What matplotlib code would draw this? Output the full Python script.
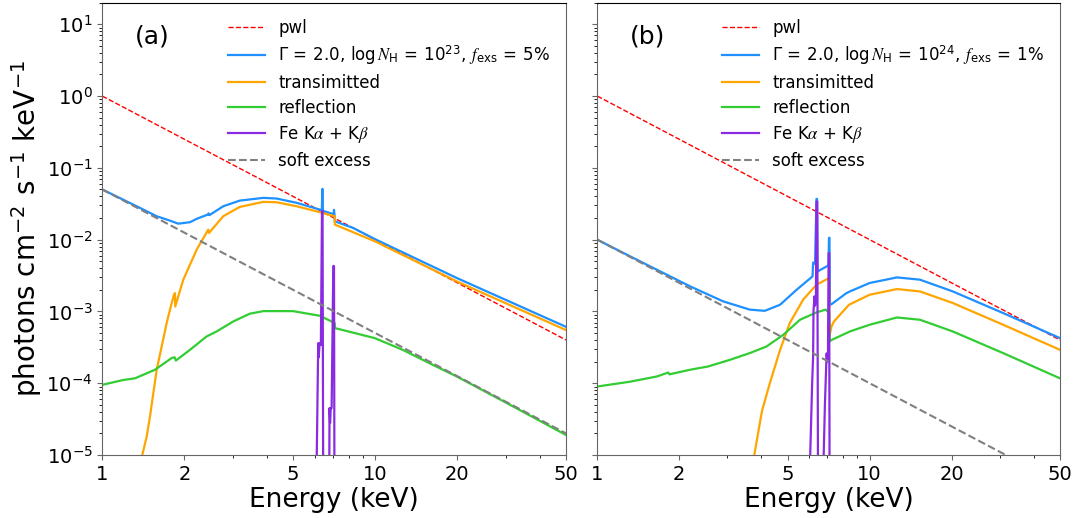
import matplotlib
matplotlib.use("Agg")
import matplotlib.pyplot as plt
from matplotlib.ticker import FixedLocator, FixedFormatter, NullFormatter, LogFormatterMathtext

plt.rcParams["mathtext.fontset"] = "custom"
plt.rcParams["mathtext.rm"] = "DejaVu Sans"
plt.rcParams["mathtext.it"] = "STIXGeneral:italic"
plt.rcParams["mathtext.bf"] = "DejaVu Sans:bold"

# ---- DATA -----------------------------------------------------------------
# power law and soft excess (straight in log-log, end points only)
pwl_e = [1.0, 50.0]
pwl_a = [1.0, 4.0e-4]
pwl_b = [1.0, 4.0e-4]
soft_e = [1.0, 50.0]
soft_a = [0.05, 2.0e-5]
soft_b = [0.01, 4.0e-6]

# panel (a): NH = 1e23, f_exs = 5%
tot_a_e = [1.0, 1.374, 1.582, 1.77, 1.898, 2.095, 2.217, 2.44, 2.45, 2.47, 2.774, 3.19,
           3.89, 4.35, 5.15, 6.27, 6.37, 6.40, 6.43, 6.9, 7.03, 7.06, 7.09, 7.11, 8.29,
           9.96, 19.9, 50.0]
tot_a_v = [0.050, 0.0277, 0.0212, 0.0184, 0.0167, 0.0175, 0.0195, 0.0224, 0.0232, 0.0220,
           0.0292, 0.0350, 0.0382, 0.0374, 0.0326, 0.0262, 0.0255, 0.051, 0.0252, 0.0232,
           0.0226, 0.026, 0.0222, 0.0180, 0.01458, 0.0102, 0.00292, 6.1e-4]

tr_a_e = [1.30, 1.401, 1.454, 1.495, 1.582, 1.65, 1.721, 1.77, 1.831, 1.846, 1.85, 1.898,
          1.98, 2.217, 2.444, 2.46, 2.774, 3.19, 3.89, 4.35, 5.15, 6.27, 7.10, 7.11,
          9.96, 19.9, 50.0]
tr_a_v = [1.0e-6, 1.0e-5, 1.8e-5, 3.43e-5, 1.54e-4, 3.25e-4, 6.9e-4, 1.06e-3, 1.71e-3,
          1.8e-3, 1.17e-3, 1.62e-3, 2.77e-3, 7.26e-3, 0.0138, 0.0124, 0.0212, 0.0286,
          0.0336, 0.0332, 0.0292, 0.0241, 0.0212, 0.0162, 0.0095, 2.62e-3, 5.5e-4]

ref_a_e = [1.0, 1.194, 1.317, 1.559, 1.794, 1.84, 1.86, 2.095, 2.41, 2.623, 3.02, 3.47,
           3.89, 5.0, 6.27, 7.10, 7.12, 9.96, 12.6, 15.8, 19.9, 29.5, 50.0]
ref_a_v = [9.5e-5, 1.11e-4, 1.17e-4, 1.54e-4, 2.24e-4, 2.3e-4, 2.07e-4, 2.92e-4, 4.48e-4,
           5.26e-4, 7.26e-4, 9.3e-4, 1.01e-3, 1.01e-3, 8.7e-4, 6.9e-4, 5.86e-4, 4.25e-4,
           2.92e-4, 1.9e-4, 1.24e-4, 5.6e-5, 1.9e-5]

fe_a_e = [6.00, 6.12, 6.18, 6.21, 6.25, 6.32, 6.38, 6.41, 6.46, 6.75, 6.80, 6.83, 6.87,
          6.92, 7.02, 7.06, 7.10]
fe_a_v = [1e-7, 2e-5, 3.6e-4, 2.3e-4, 3.6e-4, 3.4e-4, 0.025, 0.025, 1e-7, 1e-7, 4.5e-5,
          2.8e-5, 4.5e-5, 4.5e-5, 4.3e-3, 4.3e-3, 1e-7]

# panel (b): NH = 1e24, f_exs = 1%
tot_b_e = [1.0, 1.246, 1.652, 2.189, 2.9, 3.63, 4.12, 4.69, 5.39, 6.12, 6.17, 6.20, 6.30,
           6.38, 6.41, 6.44, 6.6, 7.0, 7.06, 7.09, 7.12, 7.15, 7.24, 8.22, 8.46, 10.0,
           12.6, 15.3, 20.2, 30.9, 50.0]
tot_b_v = [0.01, 6.53e-3, 3.82e-3, 2.24e-3, 1.38e-3, 1.06e-3, 1.02e-3, 1.24e-3, 2.0e-3,
           3.0e-3, 3.08e-3, 4.8e-3, 4.6e-3, 0.037, 0.037, 3.6e-3, 3.8e-3, 4.3e-3, 4.4e-3,
           0.0106, 0.0106, 1.24e-3, 1.26e-3, 1.8e-3, 1.9e-3, 2.49e-3, 2.98e-3, 2.77e-3,
           1.9e-3, 9.5e-4, 4.25e-4]

tr_b_e = [3.70, 3.77, 4.01, 4.03, 4.30, 4.69, 5.09, 5.7, 6.38, 7.10, 7.12, 7.24, 7.4,
          8.3, 8.4, 10.0, 12.6, 15.3, 20.2, 30.9, 50.0]
tr_b_v = [3e-6, 1.0e-5, 3.82e-5, 4.2e-5, 1.0e-4, 2.92e-4, 6.9e-4, 1.46e-3, 2.36e-3, 2.92e-3,
          4.5e-4, 6.18e-4, 7.26e-4, 1.18e-3, 1.24e-3, 1.71e-3, 2.05e-3, 1.9e-3, 1.31e-3,
          6.53e-4, 2.92e-4]

ref_b_e = [1.0, 1.318, 1.652, 1.822, 1.84, 2.189, 2.55, 3.07, 3.63, 4.18, 4.82, 5.55,
           6.38, 6.9, 7.10, 7.13, 7.24, 8.46, 10.0, 12.6, 15.3, 20.2, 30.9, 50.0]
ref_b_v = [9.0e-5, 1.05e-4, 1.24e-4, 1.41e-4, 1.33e-4, 1.54e-4, 1.71e-4, 2.12e-4, 2.63e-4,
           3.25e-4, 4.73e-4, 7.66e-4, 9.7e-4, 1.06e-3, 9.5e-4, 3.82e-4, 4.0e-4, 5.26e-4,
           6.53e-4, 8.24e-4, 7.66e-4, 5.26e-4, 2.63e-4, 1.17e-4]

fe_b_e = [5.95, 6.05, 6.15, 6.20, 6.22, 6.27, 6.30, 6.35, 6.38, 6.42, 6.48, 6.70, 6.78,
          6.85, 6.95, 6.99, 7.03, 7.07, 7.10, 7.14]
fe_b_v = [1e-7, 1e-5, 1e-4, 2.35e-4, 1.0e-3, 1.62e-3, 1.2e-3, 1.62e-3, 0.034, 0.034, 1e-7,
          1e-7, 1e-5, 5e-5, 2.6e-4, 2.0e-4, 2.6e-4, 6.5e-3, 6.5e-3, 1e-7]

labels_a = r"$\Gamma\;=\;2.0,\;\log N_{\rm H}\;=\;10^{23},\;f_{\rm exs}\;=\;5\%$"
labels_b = r"$\Gamma\;=\;2.0,\;\log N_{\rm H}\;=\;10^{24},\;f_{\rm exs}\;=\;1\%$"
xticks = [1, 2, 5, 10, 20, 50]
xticklabels = ["1", "2", "5", "10", "20", "50"]
xminor = [3, 4, 6, 7, 8, 9, 30, 40]
ydecades = [1e-5, 1e-4, 1e-3, 1e-2, 1e-1, 1e0, 1e1]

C_BLUE, C_ORANGE, C_GREEN, C_PURPLE = "dodgerblue", "orange", "limegreen", "blueviolet"


# ---- PLOT ------------------------------------------------------------------
def draw_panel(ax, tag, pwl, tot_e, tot_v, label, tr_e, tr_v, ref_e, ref_v,
               fe_e, fe_v, soft):
    ax.plot(pwl_e, pwl, "--", color="red", lw=1.0, label="pwl")
    ax.plot(tot_e, tot_v, color=C_BLUE, lw=1.6, label=label)
    ax.plot(tr_e, tr_v, color=C_ORANGE, lw=1.6, label="transimitted")
    ax.plot(ref_e, ref_v, color=C_GREEN, lw=1.6, label="reflection")
    ax.plot(fe_e, fe_v, color=C_PURPLE, lw=1.6, label=r"Fe K$\alpha$ + K$\beta$")
    ax.plot(soft_e, soft, "--", color="gray", lw=1.5, label="soft excess")

    ax.set_xscale("log")
    ax.set_yscale("log")
    ax.set_xlim(1, 50)
    ax.set_ylim(1e-5, 20)
    ax.xaxis.set_major_locator(FixedLocator(xticks))
    ax.xaxis.set_major_formatter(FixedFormatter(xticklabels))
    ax.xaxis.set_minor_locator(FixedLocator(xminor))
    ax.xaxis.set_minor_formatter(NullFormatter())
    ax.yaxis.set_major_locator(FixedLocator(ydecades))
    ax.yaxis.set_major_formatter(LogFormatterMathtext())
    ax.yaxis.set_minor_locator(FixedLocator([m * d for d in ydecades[:-1] for m in range(2, 10)]
                                            + [2 * ydecades[-1]]))
    ax.yaxis.set_minor_formatter(NullFormatter())
    ax.tick_params(labelsize=14, color="0.4")
    for side in ("left", "bottom", "right"):
        ax.spines[side].set_color("0.4")
    ax.set_xlabel("Energy (keV)", fontsize=19, labelpad=2)
    ax.text(0.07, 0.925, tag, transform=ax.transAxes, fontsize=18, va="center")
    ax.legend(loc="upper right", frameon=False, fontsize=12, labelspacing=0.42,
              borderaxespad=0.55, handlelength=2.2)


fig = plt.figure(figsize=(10.78, 5.18), dpi=100)
ax1 = fig.add_axes([0.0949, 0.1216, 0.4302, 0.8732])
ax2 = fig.add_axes([0.5541, 0.1216, 0.4292, 0.8732])

draw_panel(ax1, "(a)", pwl_a, tot_a_e, tot_a_v, labels_a, tr_a_e, tr_a_v,
           ref_a_e, ref_a_v, fe_a_e, fe_a_v, soft_a)
draw_panel(ax2, "(b)", pwl_b, tot_b_e, tot_b_v, labels_b, tr_b_e, tr_b_v,
           ref_b_e, ref_b_v, fe_b_e, fe_b_v, soft_b)

ax1.set_ylabel(r"photons cm$^{-2}$ s$^{-1}$ keV$^{-1}$", fontsize=20, labelpad=2)
ax2.tick_params(labelleft=False)

fig.savefig("out.png", dpi=100)
